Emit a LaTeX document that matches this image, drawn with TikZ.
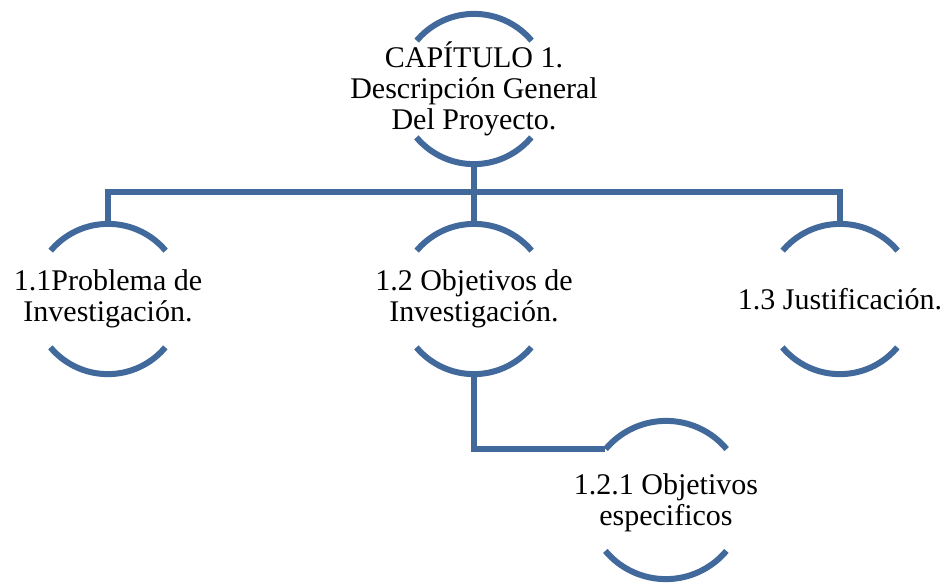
\documentclass[tikz,border=0pt]{standalone}
\usepackage{fontspec}
\setmainfont{Liberation Serif}
\definecolor{ringblue}{RGB}{65,105,155}

\begin{document}
\begin{tikzpicture}[x=1pt, y=1pt,
    ring/.style = {circle, minimum size=150pt, inner sep=0pt},
    bigring/.style = {circle, minimum size=158pt, inner sep=0pt},
    txt/.style = {align=center, inner sep=0pt, font=\fontsize{30}{31}\selectfont},
    arcs/.style = {ringblue, line width=6pt},
    link/.style = {ringblue, line width=6pt}]
    \useasboundingbox (0,0) rectangle (946,-584);
        \node[ring] (c0) at (474,-89) {};
        \node[ring] (c1) at (108,-299) {};
        \node[ring] (c2) at (474,-299) {};
        \node[ring] (c3) at (840,-299) {};
        \node[bigring] (c4) at (666,-500) {};
        \node[txt] (t0) at (c0) {CAPÍTULO 1.\\Descripción General\\Del Proyecto.};
        \node[txt] (t1) at (c1) {1.1Problema de\\Investigación.};
        \node[txt] (t2) at (c2) {1.2 Objetivos de\\Investigación.};
        \node[txt] (t3) at (c3) {1.3 Justificación.};
        \node[txt] (t4) at ([yshift=-3pt]c4) {1.2.1 Objetivos\\especificos};
        % rings, top and bottom halves
        \draw[arcs] (c0.40) arc[start angle=40, end angle=140, radius=75pt];
        \draw[arcs] (c0.220) arc[start angle=220, end angle=320, radius=75pt];
        \draw[arcs] (c1.40) arc[start angle=40, end angle=140, radius=75pt];
        \draw[arcs] (c1.220) arc[start angle=220, end angle=320, radius=75pt];
        \draw[arcs] (c2.40) arc[start angle=40, end angle=140, radius=75pt];
        \draw[arcs] (c2.220) arc[start angle=220, end angle=320, radius=75pt];
        \draw[arcs] (c3.40) arc[start angle=40, end angle=140, radius=75pt];
        \draw[arcs] (c3.220) arc[start angle=220, end angle=320, radius=75pt];
        \draw[arcs] (c4.40) arc[start angle=40, end angle=140, radius=79pt];
        \draw[arcs] (c4.220) arc[start angle=220, end angle=320, radius=79pt];
        % links
        \coordinate (bus) at (474,-192);
        \draw[link] (c0.south) -- (c2.north);
        \draw[link] (c1.north) |- (bus) -| (c3.north);
        \draw[link] (c2.south) |- (c4.140);
    \end{tikzpicture}
\end{document}
